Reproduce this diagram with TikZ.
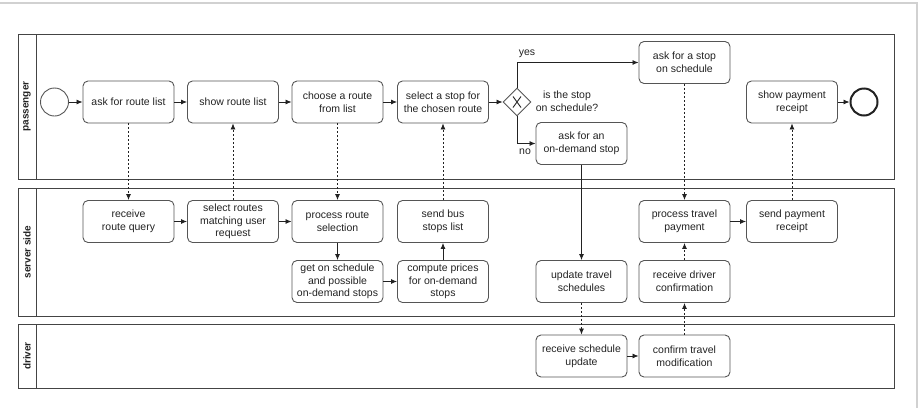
\documentclass[tikz,border=0pt]{standalone}
\usepackage{fontspec}
\setmainfont{Liberation Sans}
\usetikzlibrary{shapes.geometric,arrows.meta}
\definecolor{boxc}{HTML}{555555}
\definecolor{lanec}{HTML}{444444}
\definecolor{linec}{HTML}{222222}
\definecolor{txt}{HTML}{222222}
\begin{document}
\begin{tikzpicture}[x=1pt,y=-1pt, font=\fontsize{10.5}{12.7}\selectfont,
 task/.style={draw=boxc, line width=0.9pt, rounded corners=5pt, minimum width=91pt, minimum height=42pt, align=center, inner sep=1pt, text=txt},
 flow/.style={-{Latex[length=6pt,width=5pt]}, line width=0.8pt, draw=linec},
 msg/.style={-{Latex[length=6pt,width=5pt]}, line width=0.8pt, dash pattern=on 2pt off 2pt, draw=linec},
 lane/.style={draw=lanec, line width=0.9pt},
 lanelabel/.style={rotate=90, text=txt, font=\bfseries\fontsize{10}{12}\selectfont}]
\useasboundingbox (0,0) rectangle (919,408);
\draw[black!18, line width=2pt] (0,3) -- (917,3) -- (917,408);
% pools
\draw[lane] (18,34) rectangle (894,179); \draw[lane] (36,34) -- (36,179);
\draw[lane] (18,188) rectangle (894,316); \draw[lane] (36,188) -- (36,316);
\draw[lane] (18,324) rectangle (894,388); \draw[lane] (36,324) -- (36,388);
\node[lanelabel] (lp) at (27,106.5) {passenger};
\node[lanelabel] (ls) at (27,252) {server side};
\node[lanelabel] (ld) at (27,356) {driver};
% passenger
\node[circle, draw=boxc, line width=0.9pt, minimum size=28pt, inner sep=0] (start) at (54.5,102) {};
\node[task] (ask) at (128.5,102) {ask for route list};
\node[task] (show) at (233,102) {show route list};
\node[task] (choose) at (337.5,102) {choose a route\\from list};
\node[task] (select) at (443,102) {select a stop for\\the chosen route};
\node[diamond, draw=boxc, line width=0.9pt, minimum width=28pt, minimum height=28pt, inner sep=0] (gw) at (517,102) {};
\draw[linec, line width=0.9pt] (gw.center) +(-4,-5.5) -- +(4,5.5) (gw.center) +(4,-5.5) -- +(-4,5.5);
\node[align=center, text=txt] (gwt) at (567,101) {is the stop\\on schedule?};
\node[text=txt] (yes) at (527,54) {yes};
\node[text=txt] (no) at (525,152) {no};
\node[task] (sched) at (684.5,62.5) {ask for a stop\\on schedule};
\node[task] (ondem) at (581.5,143.5) {ask for an\\on-demand stop};
\node[task] (showpay) at (792,102) {show payment\\receipt};
\node[circle, draw=linec, line width=2pt, minimum size=27pt, inner sep=0] (end) at (864,102) {};
% server
\node[task] (rrq) at (128.5,221.5) {receive\\route query};
\node[task] (selr) at (233,221.5) {select routes\\matching user\\request};
\node[task] (proc) at (337.5,221.5) {process route\\selection};
\node[task] (send) at (443,221.5) {send bus\\stops list};
\node[task] (ptp) at (684.5,221.5) {process travel\\payment};
\node[task] (spr) at (792,221.5) {send payment\\receipt};
\node[task] (get) at (337.5,281.5) {get on schedule\\and possible\\on-demand stops};
\node[task] (comp) at (443,281.5) {compute prices\\for on-demand\\stops};
\node[task] (upd) at (581.5,281.5) {update travel\\schedules};
\node[task] (rdc) at (684.5,281.5) {receive driver\\confirmation};
% driver
\node[task] (rsu) at (581.5,356) {receive schedule\\update};
\node[task] (ctm) at (684.5,356) {confirm travel\\modification};
% flows
\draw[flow] (start) -- (ask);
\draw[flow] (ask) -- (show);
\draw[flow] (show) -- (choose);
\draw[flow] (choose) -- (select);
\draw[flow] (select) -- (gw);
\draw[flow] (gw.north) |- (sched.west);
\draw[flow] (gw.south) |- (ondem.west);
\draw[flow] (showpay) -- (end);
\draw[flow] (ondem) -- (upd);
\draw[flow] (rrq) -- (selr);
\draw[flow] (selr) -- (proc);
\draw[flow] (proc) -- (get);
\draw[flow] (get) -- (comp);
\draw[flow] (comp) -- (send);
\draw[flow] (ptp) -- (spr);
\draw[flow] (rsu) -- (ctm);
% messages
\draw[msg] (ask) -- (rrq);
\draw[msg] (selr) -- (show);
\draw[msg] (choose) -- (proc);
\draw[msg] (send) -- (select);
\draw[msg] (sched) -- (ptp);
\draw[msg] (spr) -- (showpay);
\draw[msg] (upd) -- (rsu);
\draw[msg] (ctm) -- (rdc);
\draw[msg] (rdc) -- (ptp);
\end{tikzpicture}
\end{document}
